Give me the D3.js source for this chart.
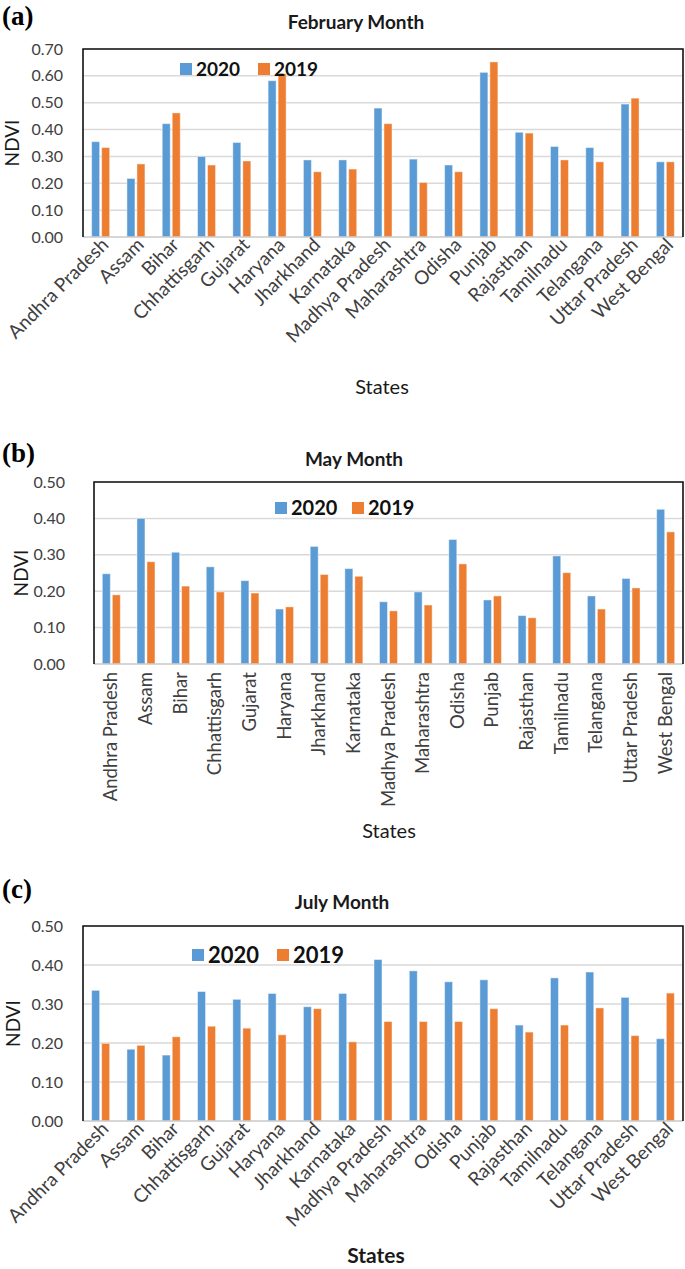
<!DOCTYPE html>
<html>
<head>
<meta charset="utf-8">
<script src="https://cdn.jsdelivr.net/npm/d3@7"></script>
<style>
  body { margin: 0; background: #fff; }
  svg text { font-family: Lato, "Open Sans", sans-serif; }
  .tick-label { fill: #404040; font-size: 16px; }
  .cat-label { fill: #404040; }
  .title { font-weight: bold; font-size: 19px; fill: #1a1a1a; }
  .tag { font-family: "Liberation Serif", "DejaVu Serif", serif; font-weight: bold; font-size: 27px; fill: #000; }
</style>
</head>
<body>
<div id="chart"></div>
<script>
// states, same order in every panel
var states = ["Andhra Pradesh", "Assam", "Bihar", "Chhattisgarh", "Gujarat", "Haryana",
  "Jharkhand", "Karnataka", "Madhya Pradesh", "Maharashtra", "Odisha", "Punjab",
  "Rajasthan", "Tamilnadu", "Telangana", "Uttar Pradesh", "West Bengal"];
var years = ["2020", "2019"];

// NDVI
var feb2020 = [0.355, 0.218, 0.422, 0.300, 0.352, 0.582, 0.287, 0.287, 0.480, 0.290, 0.268, 0.613, 0.390, 0.337, 0.333, 0.495, 0.280];
var feb2019 = [0.333, 0.272, 0.462, 0.268, 0.283, 0.608, 0.243, 0.253, 0.422, 0.203, 0.243, 0.652, 0.387, 0.287, 0.280, 0.517, 0.280];
var may2020 = [0.248, 0.400, 0.307, 0.267, 0.229, 0.151, 0.323, 0.262, 0.171, 0.198, 0.342, 0.176, 0.133, 0.297, 0.187, 0.235, 0.425];
var may2019 = [0.190, 0.281, 0.214, 0.198, 0.195, 0.157, 0.246, 0.241, 0.146, 0.162, 0.275, 0.187, 0.127, 0.251, 0.151, 0.209, 0.363];
var jul2020 = [0.335, 0.184, 0.169, 0.332, 0.312, 0.327, 0.293, 0.327, 0.414, 0.385, 0.357, 0.362, 0.246, 0.367, 0.382, 0.317, 0.211];
var jul2019 = [0.199, 0.194, 0.216, 0.243, 0.238, 0.221, 0.288, 0.203, 0.255, 0.255, 0.255, 0.288, 0.228, 0.246, 0.290, 0.219, 0.328];

var ticksFeb = [0, 0.1, 0.2, 0.3, 0.4, 0.5, 0.6, 0.7];
var ticksMayJul = [0, 0.1, 0.2, 0.3, 0.4, 0.5];

var colors = {"2020": "#5b9bd5", "2019": "#ed7d31"};

var svg = d3.select("#chart").append("svg")
  .attr("width", 685)
  .attr("height", 1269);

var panels = [
  {tag: "(a)", tagY: 25, title: "February Month", titleX: 356, titleY: 29,
   a: feb2020, b: feb2019, ticks: ticksFeb, max: 0.7,
   left: 83, right: 683, top: 49, bottom: 237, rotate: -45, catSize: 19,
   legX: 180, legY: 69, legSize: 19, legGap: 78,
   yLabX: 12, statesX: 382, statesY: 394, statesBold: false},
  {tag: "(b)", tagY: 462, title: "May Month", titleX: 354, titleY: 466,
   a: may2020, b: may2019, ticks: ticksMayJul, max: 0.5,
   left: 94, right: 683, top: 482, bottom: 664, rotate: -90, catSize: 18.5,
   legX: 275, legY: 508, legSize: 20, legGap: 77,
   yLabX: 21, statesX: 389, statesY: 838, statesBold: false},
  {tag: "(c)", tagY: 898, title: "July Month", titleX: 342, titleY: 909,
   a: jul2020, b: jul2019, ticks: ticksMayJul, max: 0.5,
   left: 83, right: 683, top: 926, bottom: 1121, rotate: -45, catSize: 19,
   legX: 192, legY: 955, legSize: 22, legGap: 85,
   yLabX: 13, statesX: 376, statesY: 1263, statesBold: true}
];

panels.forEach(function(p) {
  var g = svg.append("g");

  var x0 = d3.scaleBand().domain(states).range([p.left, p.right]);
  var x1 = d3.scaleBand().domain(years).range([0, 18]).paddingInner(0.2);
  var y = d3.scaleLinear().domain([0, p.max]).range([p.bottom, p.top]);

  // gridlines
  g.selectAll(".grid")
    .data(p.ticks.filter(function(t) { return t > 0; }))
    .enter().append("line")
    .attr("x1", p.left).attr("x2", p.right)
    .attr("y1", function(d) { return y(d); })
    .attr("y2", function(d) { return y(d); })
    .attr("stroke", "#d9d9d9")
    .attr("stroke-width", 1.5);

  // y axis labels, no tick marks
  var yAxis = d3.axisLeft(y).tickValues(p.ticks).tickFormat(d3.format(".2f")).tickSize(0).tickPadding(p.left - 63);
  var ya = g.append("g").attr("transform", "translate(" + p.left + ",0)").call(yAxis);
  ya.select(".domain").remove();
  ya.selectAll("text").attr("class", "tick-label").attr("fill", null);
  if (p.left == 94) ya.selectAll("text").attr("dx", "2");

  // bars
  var rows = states.map(function(s, i) { return {state: s, v: {"2020": p.a[i], "2019": p.b[i]}}; });
  var grp = g.selectAll(".grp")
    .data(rows)
    .enter().append("g")
    .attr("transform", function(d) { return "translate(" + (x0(d.state) + x0.bandwidth() / 2 - 9) + ",0)"; });
  grp.selectAll("rect")
    .data(function(d) { return years.map(function(k) { return {key: k, value: d.v[k]}; }); })
    .enter().append("rect")
    .attr("x", function(d) { return x1(d.key); })
    .attr("width", x1.bandwidth())
    .attr("y", function(d) { return y(d.value); })
    .attr("height", function(d) { return p.bottom - y(d.value); })
    .attr("fill", function(d) { return colors[d.key]; })
    .attr("stroke", "#ffffff")
    .attr("stroke-opacity", 0.45)
    .attr("stroke-width", 1);

  // x axis line + frame
  g.append("line")
    .attr("x1", p.left).attr("x2", p.right)
    .attr("y1", p.bottom).attr("y2", p.bottom)
    .attr("stroke", "#c8c8c8").attr("stroke-width", 1.5);
  g.append("path")
    .attr("d", "M" + p.left + "," + p.bottom + "V" + p.top + "H" + p.right + "V" + p.bottom)
    .attr("fill", "none").attr("stroke", "#111").attr("stroke-width", 1.6);

  // category labels
  var xAxis = d3.axisBottom(x0).tickSize(0).tickPadding(0);
  var xa = g.append("g").attr("transform", "translate(0," + p.bottom + ")").call(xAxis);
  xa.select(".domain").remove();
  xa.selectAll("text")
    .attr("class", "cat-label").attr("fill", null)
    .style("font-size", p.catSize + "px")
    .attr("text-anchor", "end")
    .attr("dy", null)
    .attr("y", 0)
    .attr("transform", function() {
      if (p.rotate == -90) return "translate(6,8) rotate(-90)";
      return "translate(9,9) rotate(-45)";
    });

  // titles
  g.append("text").attr("class", "tag").attr("x", 2).attr("y", p.tagY).text(p.tag);
  g.append("text").attr("class", "title").attr("x", p.titleX).attr("y", p.titleY)
    .attr("text-anchor", "middle").text(p.title);

  g.append("text")
    .attr("transform", "translate(" + (p.yLabX + 7) + "," + ((p.top + p.bottom) / 2) + ") rotate(-90)")
    .attr("text-anchor", "middle")
    .style("font-size", "19px").attr("fill", "#1a1a1a")
    .text("NDVI");

  g.append("text")
    .attr("x", p.statesX).attr("y", p.statesY)
    .attr("text-anchor", "middle")
    .style("font-size", p.statesBold ? "21px" : "20px")
    .style("font-weight", p.statesBold ? "bold" : "normal")
    .attr("fill", "#1a1a1a")
    .text("States");

  // legend
  var leg = g.selectAll(".leg")
    .data(years)
    .enter().append("g")
    .attr("transform", function(d, i) { return "translate(" + (p.legX + i * p.legGap) + "," + p.legY + ")"; });
  leg.append("rect")
    .attr("x", 0).attr("y", -6).attr("width", 12).attr("height", 12)
    .attr("fill", function(d) { return colors[d]; });
  leg.append("text")
    .attr("x", 16).attr("y", 0).attr("dy", "0.36em")
    .style("font-size", p.legSize + "px").style("font-weight", "bold")
    .attr("fill", "#111")
    .text(function(d) { return d; });
});
</script>
</body>
</html>
